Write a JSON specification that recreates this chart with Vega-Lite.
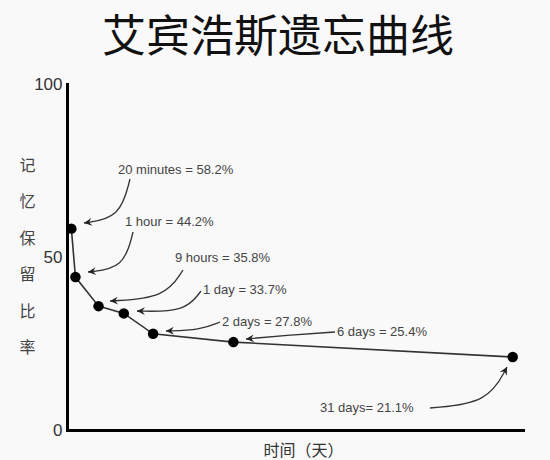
{
  "$schema": "https://vega.github.io/schema/vega-lite/v6.json",
  "width": 456,
  "height": 346,
  "autosize": {"type": "none"},
  "padding": {"left": 67, "top": 84, "right": 27, "bottom": 30},
  "background": "#f9f9f9",
  "title": {
    "text": "艾宾浩斯遗忘曲线",
    "font": "Noto Sans CJK SC",
    "fontSize": 44,
    "fontWeight": "normal",
    "color": "#111111",
    "anchor": "middle",
    "frame": "group",
    "offset": 14,
    "dx": -17
  },
  "config": {"view": {"stroke": null}, "axis": {"grid": false}},
  "datasets": {
    "points": [
      {"label": "20 minutes", "days": 0.01389, "pct": 58.2},
      {"label": "1 hour", "days": 0.04167, "pct": 44.2},
      {"label": "9 hours", "days": 0.375, "pct": 35.8},
      {"label": "1 day", "days": 1, "pct": 33.7},
      {"label": "2 days", "days": 2, "pct": 27.8},
      {"label": "6 days", "days": 6, "pct": 25.4},
      {"label": "31 days", "days": 31, "pct": 21.1}
    ],
    "arrows": [
      {"id": "20m", "k": 0, "days": 1.189, "pct": 72.54},
      {"id": "20m", "k": 1, "days": 0.891, "pct": 61.27},
      {"id": "20m", "k": 2, "days": 0.134, "pct": 59.83},
      {"id": "1h", "k": 0, "days": 1.285, "pct": 57.23},
      {"id": "1h", "k": 1, "days": 1.006, "pct": 46.82},
      {"id": "1h", "k": 2, "days": 0.1906, "pct": 45.66},
      {"id": "9h", "k": 0, "days": 3.289, "pct": 46.24},
      {"id": "9h", "k": 1, "days": 2.483, "pct": 38.15},
      {"id": "9h", "k": 2, "days": 0.6291, "pct": 37.28},
      {"id": "1d", "k": 0, "days": 4.182, "pct": 40.17},
      {"id": "1d", "k": 1, "days": 3.384, "pct": 34.1},
      {"id": "1d", "k": 2, "days": 1.417, "pct": 34.39},
      {"id": "2d", "k": 0, "days": 5.217, "pct": 31.21},
      {"id": "2d", "k": 1, "days": 4.131, "pct": 28.9},
      {"id": "2d", "k": 2, "days": 2.525, "pct": 28.61},
      {"id": "6d", "k": 0, "days": 13.278, "pct": 28.32},
      {"id": "6d", "k": 1, "days": 9.775, "pct": 27.46},
      {"id": "6d", "k": 2, "days": 6.777, "pct": 26.3},
      {"id": "31d", "k": 0, "days": 22.018, "pct": 6.36},
      {"id": "31d", "k": 1, "days": 28.187, "pct": 7.8},
      {"id": "31d", "k": 2, "days": 30.339, "pct": 18.21}
    ],
    "heads": [
      {"id": "20m", "days": 0.134, "pct": 59.83, "dir": 172},
      {"id": "1h", "days": 0.1906, "pct": 45.66, "dir": 174},
      {"id": "9h", "days": 0.6291, "pct": 37.28, "dir": 177},
      {"id": "1d", "days": 1.417, "pct": 34.39, "dir": 181},
      {"id": "2d", "days": 2.525, "pct": 28.61, "dir": 178},
      {"id": "6d", "days": 6.777, "pct": 26.3, "dir": 175},
      {"id": "31d", "days": 30.339, "pct": 18.21, "dir": 298}
    ],
    "notes": [
      {"text": "20 minutes = 58.2%", "days": 0.836, "pct": 75.14},
      {"text": "1 hour = 44.2%", "days": 1.036, "pct": 60.12},
      {"text": "9 hours = 35.8%", "days": 2.919, "pct": 49.71},
      {"text": "1 day = 33.7%", "days": 4.287, "pct": 40.46},
      {"text": "2 days = 27.8%", "days": 5.331, "pct": 31.21},
      {"text": "6 days = 25.4%", "days": 13.443, "pct": 28.32},
      {"text": "31 days= 21.1%", "days": 12.063, "pct": 6.36}
    ]
  },
  "encoding": {
    "x": {
      "field": "days",
      "type": "quantitative",
      "scale": {"type": "pow", "exponent": 0.6, "domain": [0, 32.2], "nice": false},
      "axis": {
        "labels": false,
        "ticks": false,
        "domainColor": "#000000",
        "domainWidth": 3,
        "domainCap": "square",
        "title": "时间（天）",
        "titleFont": "Noto Sans CJK SC",
        "titleFontSize": 16,
        "titleFontWeight": "normal",
        "titleColor": "#333333",
        "titleX": 236,
        "titleY": 20,
        "titleBaseline": "middle"
      }
    },
    "y": {
      "field": "pct",
      "type": "quantitative",
      "scale": {"domain": [0, 100], "nice": false},
      "axis": {
        "values": [0, 50, 100],
        "ticks": false,
        "labelFont": "Liberation Sans",
        "labelFontSize": 17,
        "labelColor": "#333333",
        "labelPadding": 5,
        "domainColor": "#000000",
        "domainWidth": 3,
        "domainCap": "square",
        "title": ["记", "忆", "保", "留", "比", "率"],
        "titleAngle": 0,
        "titleFont": "Noto Sans CJK SC",
        "titleFontSize": 16,
        "titleFontWeight": "normal",
        "titleColor": "#444444",
        "titleX": -40,
        "titleY": 81,
        "titleAlign": "center",
        "titleBaseline": "middle",
        "titleLineHeight": 36.5
      }
    }
  },
  "layer": [
    {
      "data": {"name": "points"},
      "mark": {"type": "line", "color": "#333333", "strokeWidth": 1.6}
    },
    {
      "data": {"name": "points"},
      "mark": {"type": "point", "shape": "circle", "filled": true, "color": "#000000", "opacity": 1, "size": 110}
    },
    {
      "data": {"name": "arrows"},
      "mark": {"type": "line", "interpolate": "basis", "color": "#333333", "strokeWidth": 1.3},
      "encoding": {
        "detail": {"field": "id"},
        "order": {"field": "k", "type": "quantitative"}
      }
    },
    {
      "data": {"name": "heads"},
      "mark": {
        "type": "point",
        "shape": "M0,0 L-1,-0.5 L-0.65,0 L-1,0.5 Z",
        "filled": true,
        "color": "#222222",
        "opacity": 1,
        "size": 250
      },
      "encoding": {
        "angle": {"field": "dir", "type": "quantitative", "scale": null}
      }
    },
    {
      "data": {"name": "notes"},
      "mark": {
        "type": "text",
        "align": "left",
        "baseline": "middle",
        "font": "Liberation Sans",
        "fontSize": 13,
        "color": "#444444"
      },
      "encoding": {
        "text": {"field": "text"}
      }
    }
  ]
}
